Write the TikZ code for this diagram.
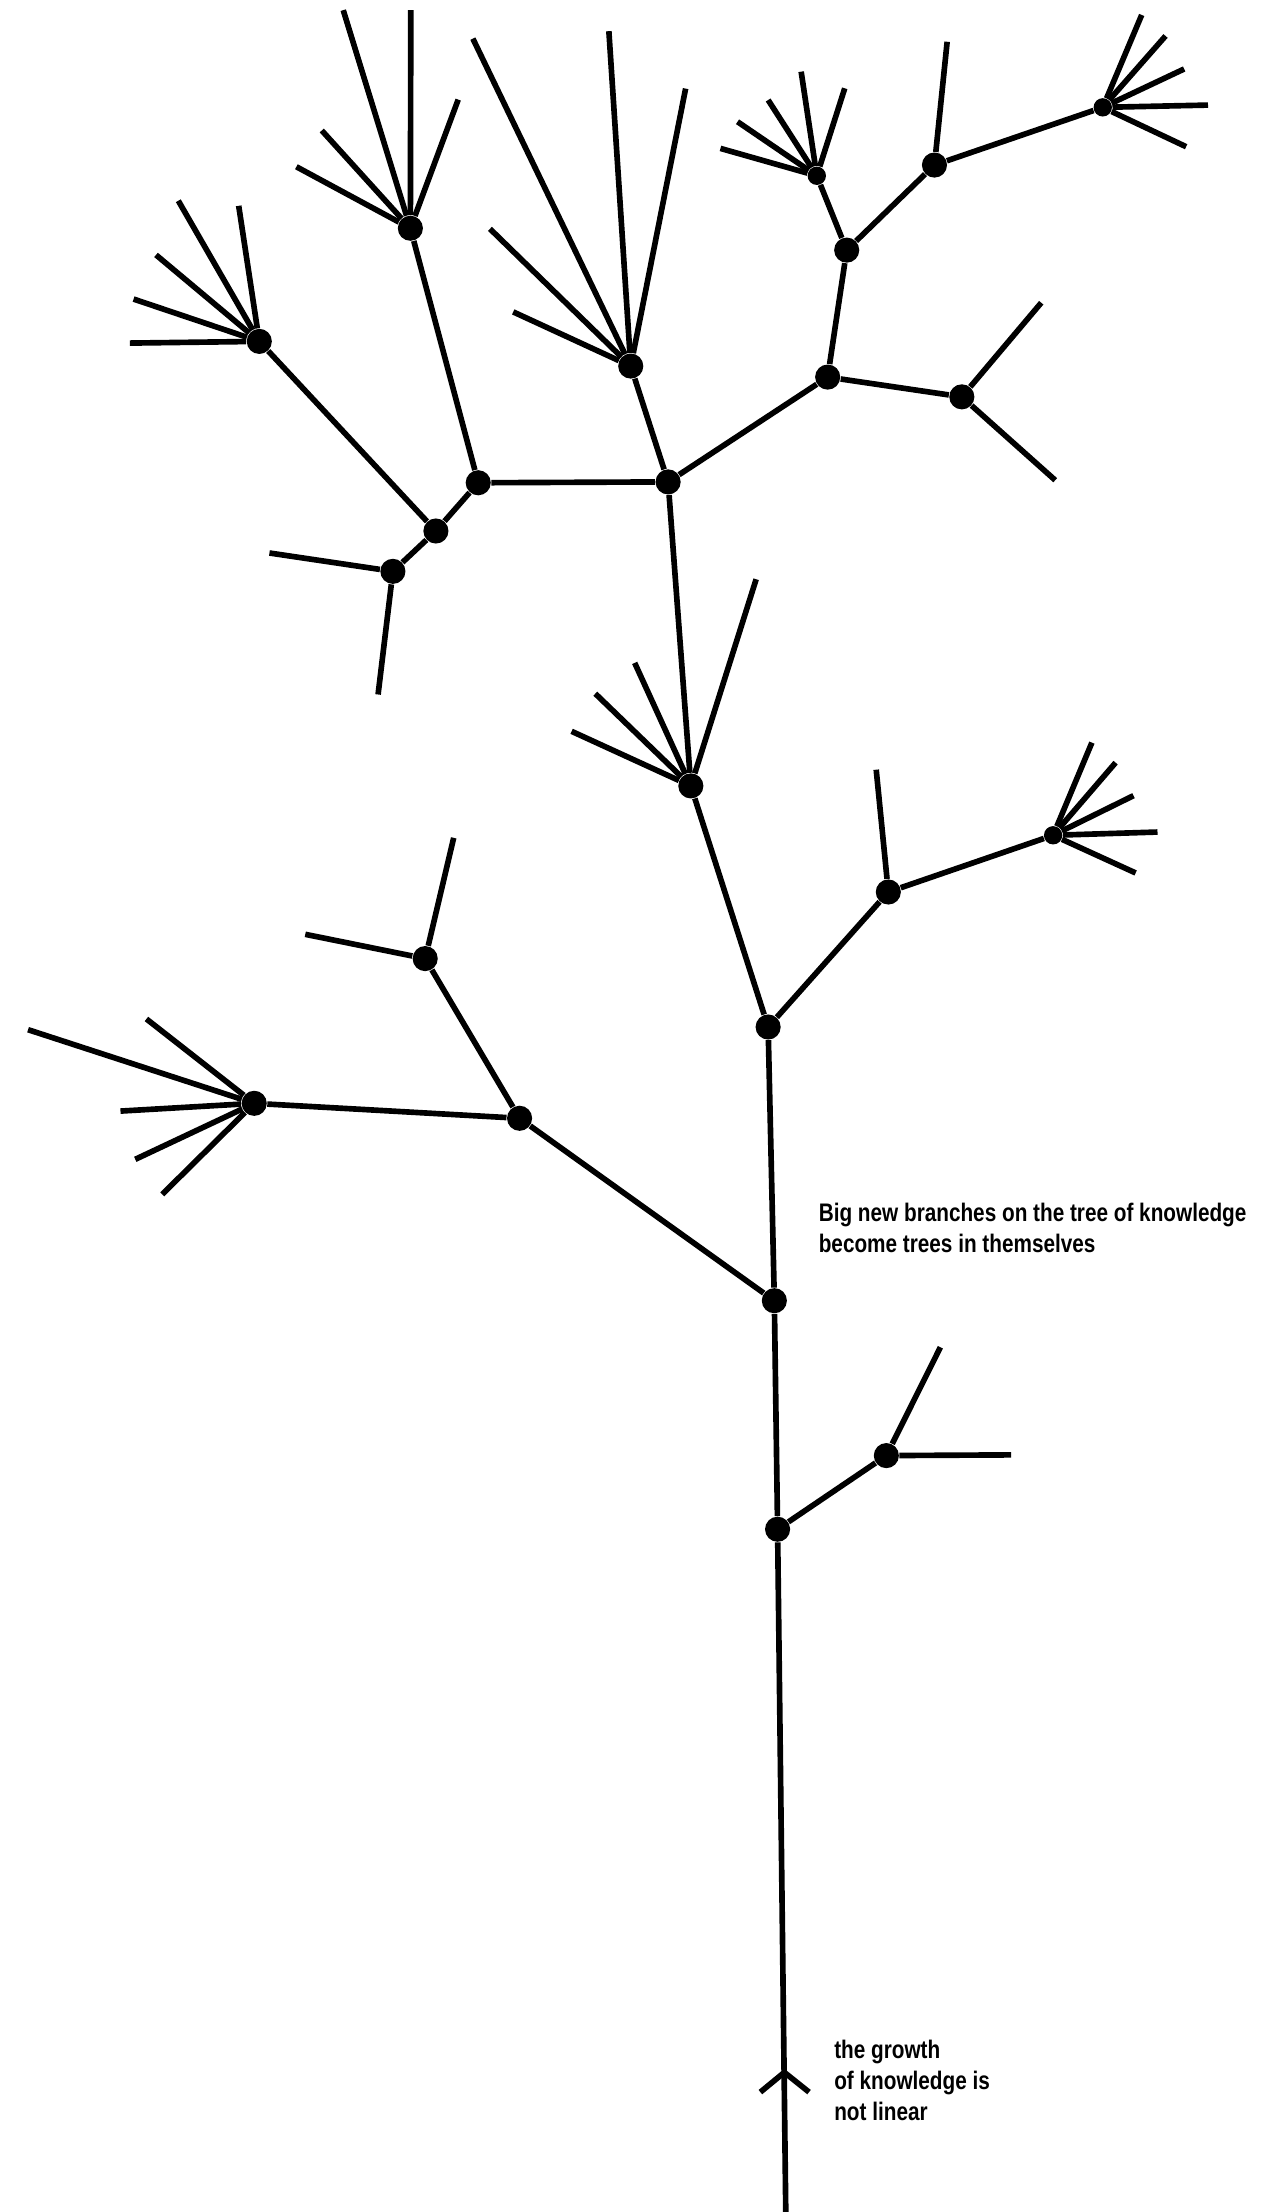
\documentclass[tikz,border=0pt]{standalone}
\usepackage{fontspec}
\newfontfamily\condfont[FakeStretch=0.817]{Liberation Sans}
\begin{document}
\begin{tikzpicture}[x=0.5pt,y=-0.5pt,
  br/.style={line width=2pt, line cap=butt},
  dot/.style={circle, fill=black, inner sep=0pt, minimum size=8.9pt},
  sdot/.style={circle, fill=black, inner sep=0pt, minimum size=6.5pt},
  lbl/.style={anchor=base west, align=left, inner sep=0pt,
    font=\condfont\bfseries\fontsize{9}{11}\selectfont}]
\useasboundingbox (0,0) rectangle (902,1568);
% main nodes
\node[dot] (A) at (183.8,242) {};
\node[dot] (B) at (290.9,161.8) {};
\node[dot] (C) at (447.1,259.5) {};
\node[dot] (D) at (339,342.2) {};
\node[dot] (E) at (473.6,341.6) {};
\node[dot] (F) at (309,376.4) {};
\node[dot] (G) at (278.5,405) {};
\node[dot] (I) at (586.7,267.3) {};
\node[dot] (P) at (681.8,281.3) {};
\node[dot] (J) at (600.2,177.3) {};
\node[sdot] (Q) at (579,124.6) {};
\node[dot] (R) at (662.4,117) {};
\node[sdot] (S) at (781.7,76.1) {};
\node[dot] (M) at (489.7,557.1) {};
\node[dot] (N) at (544.5,728) {};
\node[dot] (O) at (629.7,632.3) {};
\node[sdot] (T) at (746.5,592.1) {};
\node[dot] (X) at (548.9,922) {};
\node[dot] (U) at (368.3,792.7) {};
\node[dot] (V) at (301.4,679.5) {};
\node[dot] (W) at (180.2,782.1) {};
\node[dot] (K) at (551.2,1084) {};
\node[dot] (L) at (628.3,1031.8) {};
\coordinate (bot) at (557,1568);
% free ends
\foreach \x/\y [count=\i] in {92/243.2,94.7/212,110.6/180.7,126.4/142.3,169.2/145.9} {\coordinate (a\i) at (\x,\y);}
\foreach \x/\y [count=\i] in {210.1/118.2,228.1/92.5,243.3/7.2,291.2/7.2,324.8/70.6} {\coordinate (b\i) at (\x,\y);}
\foreach \x/\y [count=\i] in {363.8/221.1,347.3/162.2,335.2/27.4,431.6/22.1,486/62.8} {\coordinate (c\i) at (\x,\y);}
\foreach \x/\y [count=\i] in {191/392,268/492.3} {\coordinate (g\i) at (\x,\y);}
\foreach \x/\y [count=\i] in {738.1/214.6,748/340.4} {\coordinate (p\i) at (\x,\y);}
\foreach \x/\y [count=\i] in {510.7/105.2,522.8/86.3,544.5/70.9,567.9/50.8,598.8/62.6} {\coordinate (q\i) at (\x,\y);}
\coordinate (r1) at (671.4,29.6);
\foreach \x/\y [count=\i] in {809.3/10.6,826.2/25.5,839.4/48.9,856.3/74.5,840.8/104} {\coordinate (s\i) at (\x,\y);}
\foreach \x/\y [count=\i] in {405.2/518.4,422/491.7,449.9/469.9,536/410.6} {\coordinate (m\i) at (\x,\y);}
\coordinate (o1) at (621.1,545.6);
\foreach \x/\y [count=\i] in {774/526.4,790.8/540.6,803.5/564,820.5/589.8,805/618.8} {\coordinate (t\i) at (\x,\y);}
\foreach \x/\y [count=\i] in {321.6/593.9,216.4/662.3} {\coordinate (v\i) at (\x,\y);}
\foreach \x/\y [count=\i] in {19.9/729.9,103.8/722.3,85.4/787.6,95.9/821.8,115/846.6} {\coordinate (w\i) at (\x,\y);}
\foreach \x/\y [count=\i] in {666.6/955,716.7/1031.3} {\coordinate (l\i) at (\x,\y);}
% arrow chevron
\coordinate (ap) at (556,1469);
\coordinate (al) at (539,1483);
\coordinate (ar) at (573.5,1483);
% branches
\begin{scope}[br]
\foreach \u/\v in {A/F,B/D,D/F,F/G,D/E,C/E,E/I,I/J,I/P,J/Q,J/R,R/S,E/M,M/N,N/O,O/T,N/X,X/U,U/V,U/W,X/K,K/L,K/bot}
  {\draw (\u) -- (\v);}
\foreach \i in {1,...,5} {\draw (A) -- (a\i); \draw (B) -- (b\i); \draw (C) -- (c\i);
  \draw (Q) -- (q\i); \draw (S) -- (s\i); \draw (T) -- (t\i); \draw (W) -- (w\i);}
\foreach \i in {1,...,4} {\draw (M) -- (m\i);}
\foreach \i in {1,2} {\draw (G) -- (g\i); \draw (P) -- (p\i); \draw (V) -- (v\i); \draw (L) -- (l\i);}
\draw (R) -- (r1);
\draw (O) -- (o1);
\draw (al) -- (ap) -- (ar);
\end{scope}
% labels (anchor is the baseline of the last line)
\node[lbl] (t1) at (580,888.1) {Big new branches on the tree of knowledge\\become trees in themselves};
\node[lbl] (t2) at (591,1503.2) {the growth\\of knowledge is\\not linear};
\end{tikzpicture}
\end{document}
